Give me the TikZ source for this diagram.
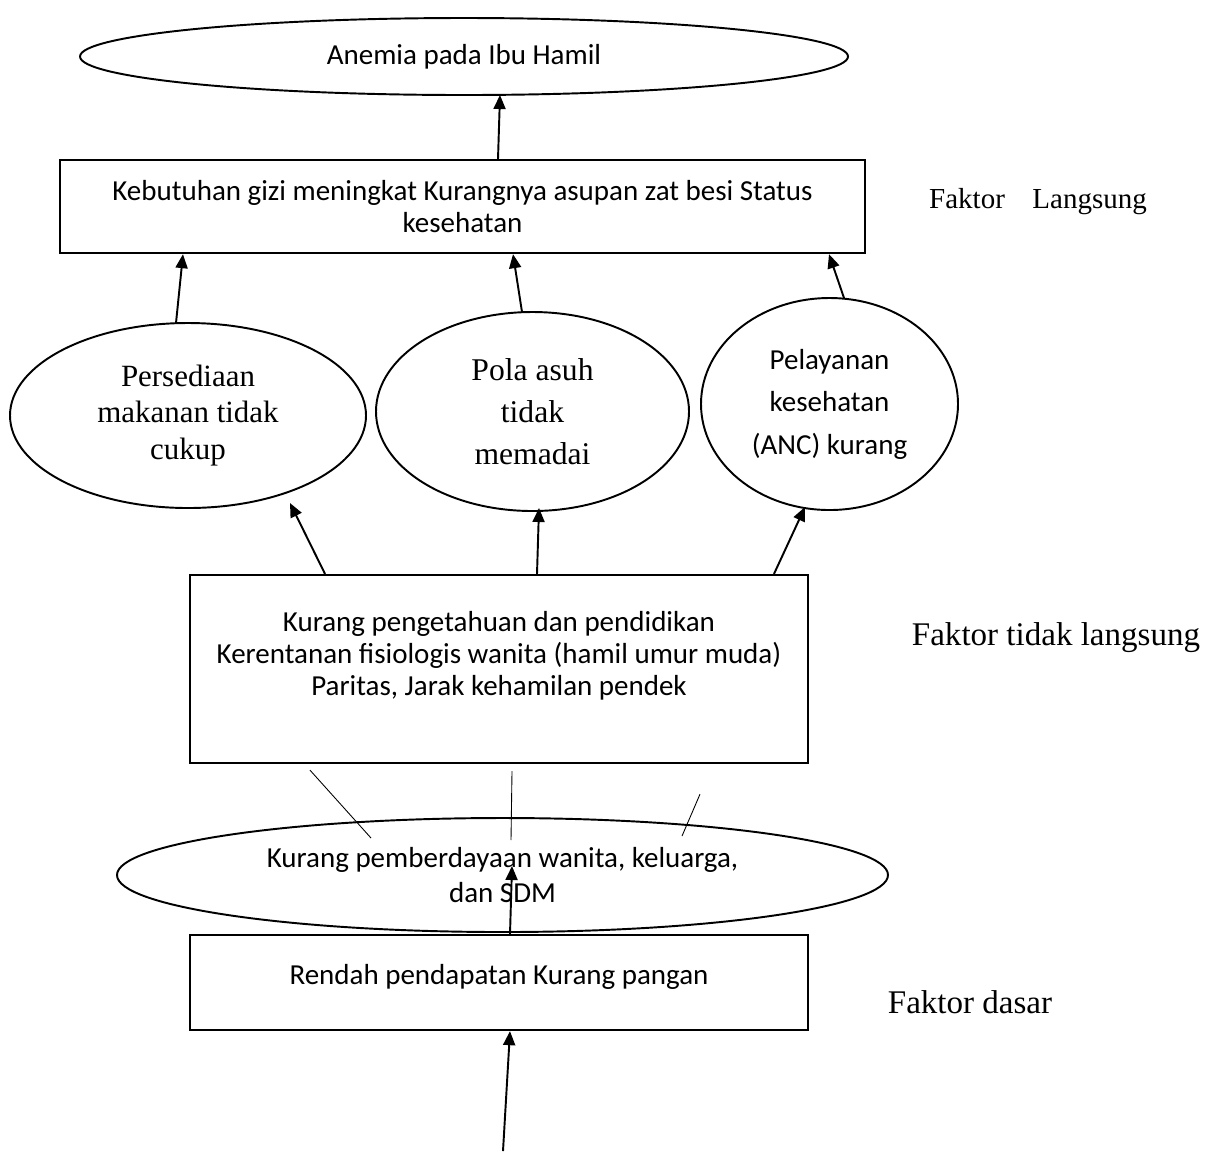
\documentclass[tikz,border=0pt]{standalone}
\usepackage{fontspec}
\setmainfont{Carlito}
\newfontfamily\timesfont{Liberation Serif}
\usetikzlibrary{arrows, arrows.meta}
\usetikzlibrary{calc}
\usetikzlibrary{shapes.geometric}

\begin{document}
\begin{tikzpicture}[
    boxnode/.style={rectangle, draw, line width=1.3pt, inner sep=0pt, align=center},
    ovalnode/.style={ellipse, draw, line width=1.1pt, inner sep=0pt, align=center},
    arrowline/.style={line width=1.1pt, -{Triangle[length=2.8mm, width=2.4mm]}},
    thinline/.style={line width=0.5pt}
  ]
      \useasboundingbox (0,0) rectangle (24.26,-23.02);

      \node[ovalnode, minimum width=15.36cm, minimum height=1.54cm, font=\fontsize{16.5}{18}\selectfont] (anemia) at (9.28,-1.13) {Anemia pada Ibu Hamil};
      \node[boxnode, minimum width=16.1cm, minimum height=1.86cm, font=\fontsize{16.5}{18.2}\selectfont] (kebutuhan) at (9.25,-4.13) {Kebutuhan gizi meningkat Kurangnya asupan zat besi Status\\ kesehatan};

      \node[ovalnode, minimum width=7.12cm, minimum height=3.7cm, font=\timesfont\fontsize{17.6}{20.8}\selectfont] (persediaan) at (3.76,-8.31) {Persediaan\\ makanan tidak\\ cukup};
      \node[ovalnode, minimum width=6.26cm, minimum height=3.98cm, font=\timesfont\fontsize{18}{24}\selectfont] (polaasuh) at (10.65,-8.23) {Pola asuh\\ tidak\\ memadai};
      \node[ovalnode, minimum width=5.14cm, minimum height=4.24cm, font=\fontsize{16.5}{24.2}\selectfont] (pelayanan) at (16.59,-8.08) {Pelayanan\\ kesehatan\\ (ANC) kurang};

      \node[boxnode, minimum width=12.36cm, minimum height=3.76cm, font=\fontsize{16.5}{18.2}\selectfont] (pengetahuan) at (9.98,-13.38) {Kurang pengetahuan dan pendidikan\\ Kerentanan fisiologis wanita (hamil umur muda)\\ Paritas, Jarak kehamilan pendek\\ \mbox{}};
      \node[ovalnode, minimum width=15.42cm, minimum height=2.28cm, font=\fontsize{16.5}{20}\selectfont] (pemberdayaan) at (10.05,-17.5) {Kurang pemberdayaan wanita, keluarga,\\ dan SDM};
      \node[boxnode, minimum width=12.36cm, minimum height=1.9cm, text depth=0.31cm, font=\fontsize{16.5}{18.2}\selectfont] (pendapatan) at (9.98,-19.65) {Rendah pendapatan Kurang pangan};

      \node[anchor=base, font=\timesfont\fontsize{16.5}{18}\selectfont] (langsung) at (20.76,-4.16) {Faktor\hspace{0.55cm}Langsung};
      \node[anchor=base, font=\timesfont\fontsize{18.8}{20}\selectfont] (tidaklangsung) at (21.12,-12.9) {Faktor tidak langsung};
      \node[anchor=base, font=\timesfont\fontsize{18.8}{20}\selectfont] (dasar) at (19.4,-20.26) {Faktor dasar};

      \coordinate (bawah) at (10.06,-23.02);

      \draw[arrowline] ($(kebutuhan.north)+(0.71,0)$) -- ($(anemia.center)+(0.72,-0.77)$);
      \draw[arrowline] ($(persediaan.center)+(-0.24,1.85)$) -- ($(kebutuhan.south)+(-5.59,0)$);
      \draw[arrowline] ($(polaasuh.center)+(-0.21,1.99)$) -- ($(kebutuhan.south)+(1.01,0)$);
      \draw[arrowline] ($(pelayanan.center)+(0.29,2.12)$) -- ($(kebutuhan.south)+(7.33,0)$);

      \draw[arrowline] ($(pengetahuan.north)+(-3.48,0)$) -- ($(persediaan.center)+(2.04,-1.75)$);
      \draw[arrowline] ($(pengetahuan.north)+(0.76,0)$) -- ($(polaasuh.center)+(0.13,-1.93)$);
      \draw[arrowline] ($(pengetahuan.north)+(5.5,0)$) -- ($(pelayanan.center)+(-0.49,-2.06)$);

      \draw[thinline] ($(pengetahuan.south)+(-3.78,-0.12)$) -- ($(pemberdayaan.center)+(-2.63,0.74)$);
      \draw[thinline] ($(pengetahuan.south)+(0.26,-0.14)$) -- ($(pemberdayaan.center)+(0.17,0.7)$);
      \draw[thinline] ($(pengetahuan.south)+(4.02,-0.6)$) -- ($(pemberdayaan.center)+(3.59,0.78)$);

      \draw[arrowline] ($(pendapatan.north)+(0.22,0)$) -- ($(pemberdayaan.center)+(0.19,0.18)$);
      \draw[arrowline] (bawah) -- ($(pendapatan.south)+(0.22,0)$);
\end{tikzpicture}
\end{document}
